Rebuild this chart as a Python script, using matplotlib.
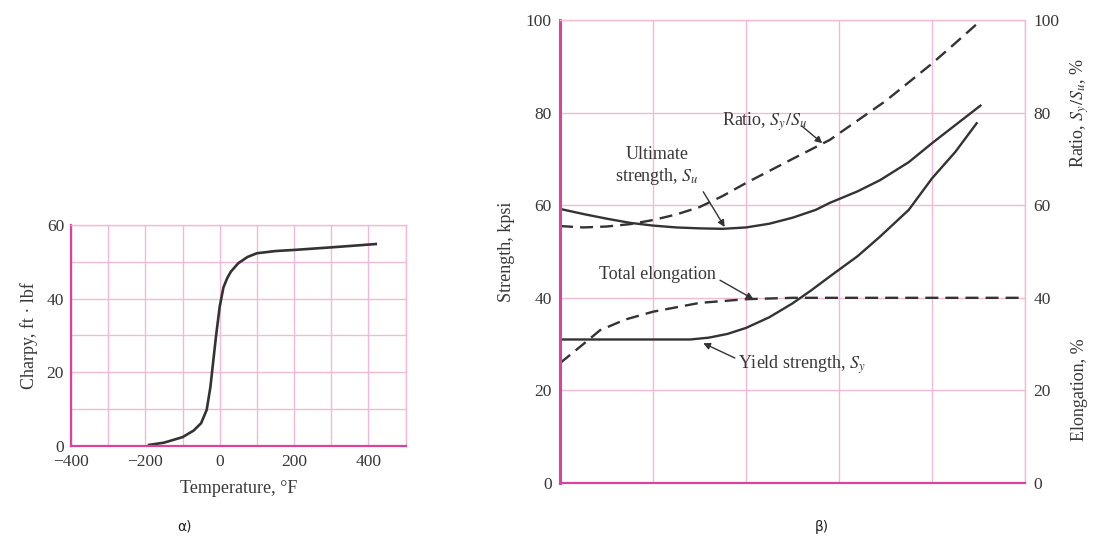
import matplotlib
matplotlib.use('Agg')
import matplotlib.pyplot as plt

plt.rcParams['font.family'] = ['Liberation Serif', 'DejaVu Serif']
plt.rcParams['mathtext.fontset'] = 'stix'

# --- chart a: Charpy vs temperature
temp_f = [-190, -150, -100, -70, -50, -35, -25, -20, -10, 0, 10, 20, 30, 50, 75, 100, 150, 200, 300, 420]
charpy = [0.3, 0.9, 2.4, 4.2, 6.2, 9.8, 16, 20.6, 29.7, 37.8, 43, 45.5, 47.3, 49.6, 51.3, 52.3, 52.9, 53.2, 53.9, 54.8]
charpy_xticks = [-400, -200, 0, 200, 400]
charpy_yticks = [0, 20, 40, 60]

# --- chart b: strength / ratio / elongation (x axis unlabeled)
su_x = [0, 0.25, 0.5, 0.75, 1, 1.25, 1.5, 1.75, 2, 2.25, 2.5, 2.75, 2.9, 3.2, 3.44, 3.75, 4, 4.25, 4.52]
su_y = [59.2, 58.1, 57.1, 56.2, 55.6, 55.2, 55.0, 54.9, 55.2, 56, 57.3, 59, 60.5, 63, 65.4, 69.3, 73.4, 77.3, 81.5]
sy_x = [0, 0.5, 1, 1.4, 1.6, 1.8, 2, 2.25, 2.5, 2.7, 2.9, 3.2, 3.44, 3.75, 4, 4.25, 4.48]
sy_y = [31, 31, 31, 31, 31.4, 32.2, 33.5, 35.8, 38.8, 41.6, 44.6, 49, 53.2, 59, 65.8, 71.5, 77.7]
ratio_x = [0, 0.25, 0.5, 0.75, 1, 1.25, 1.5, 1.75, 2, 2.5, 2.9, 3.25, 3.5, 4, 4.25, 4.53]
ratio_y = [55.5, 55.2, 55.4, 55.9, 56.8, 58, 59.6, 62, 64.8, 70, 74.1, 79, 82.5, 90.6, 95, 100]
elong_x = [0, 0.22, 0.43, 0.7, 1, 1.5, 2, 2.5, 5]
elong_y = [25.9, 29.5, 33, 35.3, 37, 38.9, 39.7, 40, 40]
strength_ticks = [0, 20, 40, 60, 80, 100]

spine_col = '#d9449a'
grid_col = '#f3b9d6'
text_col = '#383838'
line_col = '#333333'
fs = 12.5
fs_lab = 13

fig = plt.figure(figsize=(10.93, 5.38), dpi=100)

# ---------------- a)
ax1 = fig.add_axes([0.065, 0.171, 0.306, 0.411])
ax1.plot(temp_f, charpy, color=line_col, lw=1.9)
ax1.set_xlim(-400, 500)
ax1.set_ylim(0, 60)
ax1.set_xticks(range(-400, 501, 100), minor=False)
ax1.set_yticks(range(0, 61, 10))
ax1.set_xticklabels(['\u2212400' if v == -400 else '\u2212200' if v == -200 else str(v) if v in charpy_xticks else '' for v in range(-400, 501, 100)])
ax1.set_yticklabels([str(v) if v in charpy_yticks else '' for v in range(0, 61, 10)])
ax1.grid(True, color=grid_col, lw=1)
ax1.tick_params(length=0, labelsize=fs, colors=text_col, pad=5)
ax1.tick_params(axis='x', pad=6)
for s in ['top', 'right']:
    ax1.spines[s].set_color(grid_col)
    ax1.spines[s].set_linewidth(1)
for s in ['left', 'bottom']:
    ax1.spines[s].set_color(spine_col)
    ax1.spines[s].set_linewidth(1.6)
ax1.set_xlabel('Temperature, \u00b0F', fontsize=fs_lab, color=text_col, labelpad=7)
ax1.set_ylabel('Charpy, ft \u00b7 lbf', fontsize=fs_lab, color=text_col, labelpad=6)
fig.text(185 / 1093, 1 - 527 / 538, '\u03b1)', family='DejaVu Sans', fontsize=10, color='#222222', ha='center', va='center')

# ---------------- b)
ax2 = fig.add_axes([0.5124, 0.1022, 0.4254, 0.8606])
dash = (5.5, 3)
ax2.plot(su_x, su_y, color=line_col, lw=1.7)
ax2.plot(sy_x, sy_y, color=line_col, lw=1.7)
ax2.plot(ratio_x, ratio_y, color=line_col, lw=1.7, dashes=dash)
ax2.plot(elong_x, elong_y, color=line_col, lw=1.7, dashes=dash)
ax2.set_xlim(0, 5)
ax2.set_ylim(0, 100)
ax2.set_xticks(range(0, 6))
ax2.set_xticklabels([])
ax2.set_yticks(strength_ticks)
ax2.grid(True, color=grid_col, lw=1)
ax2.tick_params(length=0, labelsize=fs, colors=text_col, pad=6)
for s in ['top', 'right']:
    ax2.spines[s].set_color(grid_col)
    ax2.spines[s].set_linewidth(1)
ax2.spines['left'].set_color(spine_col)
ax2.spines['left'].set_linewidth(2.2)
ax2.spines['bottom'].set_color(spine_col)
ax2.spines['bottom'].set_linewidth(1.6)
ax2.set_ylabel('Strength, kpsi', fontsize=fs_lab, color=text_col, labelpad=8)

ax3 = ax2.twinx()
ax3.set_ylim(0, 100)
ax3.set_yticks(strength_ticks)
ax3.tick_params(length=0, labelsize=fs, colors=text_col, pad=6)
for s in ax3.spines.values():
    s.set_visible(False)

fig.text(1080 / 1093, 1 - 113 / 538, 'Ratio, $S_y/S_u$, %', rotation=90, fontsize=fs_lab,
         color=text_col, ha='center', va='center')
fig.text(1080 / 1093, 1 - 390 / 538, 'Elongation, %', rotation=90, fontsize=fs_lab,
         color=text_col, ha='center', va='center')

arr = dict(arrowstyle='-|>', color=line_col, lw=1.0, mutation_scale=10, shrinkA=0, shrinkB=0)
ax2.text(2.20, 78.0, 'Ratio, $S_y/S_u$', fontsize=fs_lab, color=text_col, ha='center', va='center')
ax2.annotate('', xy=(2.82, 73.4), xytext=(2.60, 77.1), arrowprops=arr)
ax2.text(1.04, 68.3, 'Ultimate\nstrength, $S_u$', fontsize=fs_lab, color=text_col, ha='center', va='center',
         linespacing=1.2)
ax2.annotate('', xy=(1.77, 55.3), xytext=(1.54, 62.9), arrowprops=arr)
ax2.text(1.05, 45.1, 'Total elongation', fontsize=fs_lab, color=text_col, ha='center', va='center')
ax2.annotate('', xy=(2.08, 39.7), xytext=(1.72, 43.8), arrowprops=arr)
ax2.text(1.91, 25.5, 'Yield strength, $S_y$', fontsize=fs_lab, color=text_col, ha='left', va='center')
ax2.annotate('', xy=(1.54, 30.2), xytext=(1.88, 27.0), arrowprops=arr)

fig.text(822 / 1093, 1 - 527 / 538, '\u03b2)', family='DejaVu Sans', fontsize=10, color='#222222', ha='center', va='center')

fig.savefig('out.png', dpi=100)
